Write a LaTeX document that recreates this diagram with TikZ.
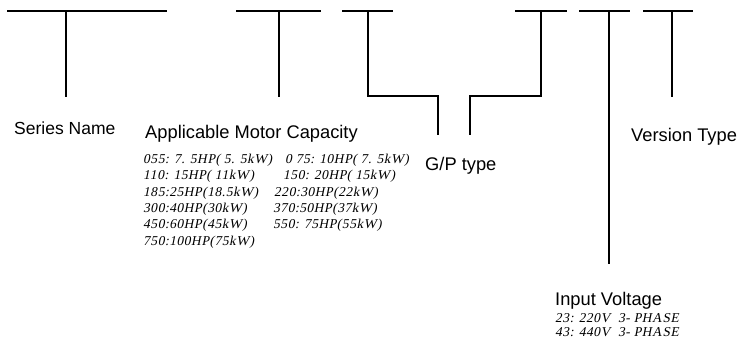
\documentclass[tikz,border=0pt]{standalone}
\usepackage{fontspec}
\setmainfont{Liberation Serif}
\setsansfont{Liberation Sans}
\newfontfamily\codefont[LetterSpace=4,FakeSlant=0.2]{Liberation Serif}
\usetikzlibrary{positioning}

\begin{document}
\begin{tikzpicture}[x=1pt,y=-1pt]
	\tikzstyle{every node}+=[inner sep=0pt]
	\tikzstyle{bar}=[black, line width=2pt]
	\tikzstyle{lbl}=[anchor=base west, font=\sffamily\fontsize{18.3}{19}\selectfont]
	\tikzstyle{code}=[anchor=base west, font=\codefont\fontsize{13.5}{16}\selectfont]
	\useasboundingbox (0,0) rectangle (739,338);
	% top bars
	\draw [bar] (7,11) -- (167,11);
	\draw [bar] (236,11) -- (321,11);
	\draw [bar] (342,11) -- (393,11);
	\draw [bar] (515,11) -- (567,11);
	\draw [bar] (579,11) -- (630,11);
	\draw [bar] (643,11) -- (693,11);
	% stems
	\coordinate (sn) at (66,11);
	\coordinate (sn1) at (66,97);
	\coordinate (mc) at (279,11);
	\coordinate (mc1) at (279,97);
	\coordinate (gp) at (368,11);
	\coordinate (gp1) at (368,96);
	\coordinate (gp2) at (438,96);
	\coordinate (gp3) at (438,135);
	\coordinate (gq) at (541,11);
	\coordinate (gq1) at (541,96);
	\coordinate (gq2) at (470,96);
	\coordinate (gq3) at (470,135);
	\coordinate (iv) at (609,11);
	\coordinate (iv1) at (609,264);
	\coordinate (vt) at (672,11);
	\coordinate (vt1) at (672,97);
	\draw [bar] (sn) -- (sn1);
	\draw [bar] (mc) -- (mc1);
	\draw [bar] (gp) -- (gp1) -- (gp2) -- (gp3);
	\draw [bar] (gq) -- (gq1) -- (gq2) -- (gq3);
	\draw [bar] (iv) -- (iv1);
	\draw [bar] (vt) -- (vt1);
	% labels
	\node [lbl, font=\sffamily\fontsize{17.5}{18}\selectfont] (series) at (14,134) {Series Name};
	\node [lbl] (motor) at (145,138) {Applicable Motor Capacity};
	\node [lbl] (gptype) at (425,170) {G/P type};
	\node [lbl] (version) at (631,141) {Version Type};
	\node [lbl] (input) at (555,305) {Input Voltage};
	\node [code] (c1) at (143,163) {055: 7. 5HP( 5. 5kW)};
	\node [code] (c2) at (143,179) {110: 15HP( 11kW)};
	\node [code] (c3) at (143,196) {185:25HP(18.5kW)};
	\node [code] (c4) at (143,212) {300:40HP(30kW)};
	\node [code] (c5) at (143,228) {450:60HP(45kW)};
	\node [code] (c6) at (143,245) {750:100HP(75kW)};
	\node [code] (d1) at (285,163) {0 75: 10HP( 7. 5kW)};
	\node [code] (d2) at (283,179) {150: 20HP( 15kW)};
	\node [code] (d3) at (274,196) {220:30HP(22kW)};
	\node [code] (d4) at (273,212) {370:50HP(37kW)};
	\node [code] (d5) at (273,228) {550: 75HP(55kW)};
	\node [code] (v1) at (555,322) {23: 220V\ \ 3- PHASE};
	\node [code] (v2) at (555,336) {43: 440V\ \ 3- PHASE};
\end{tikzpicture}
\end{document}
